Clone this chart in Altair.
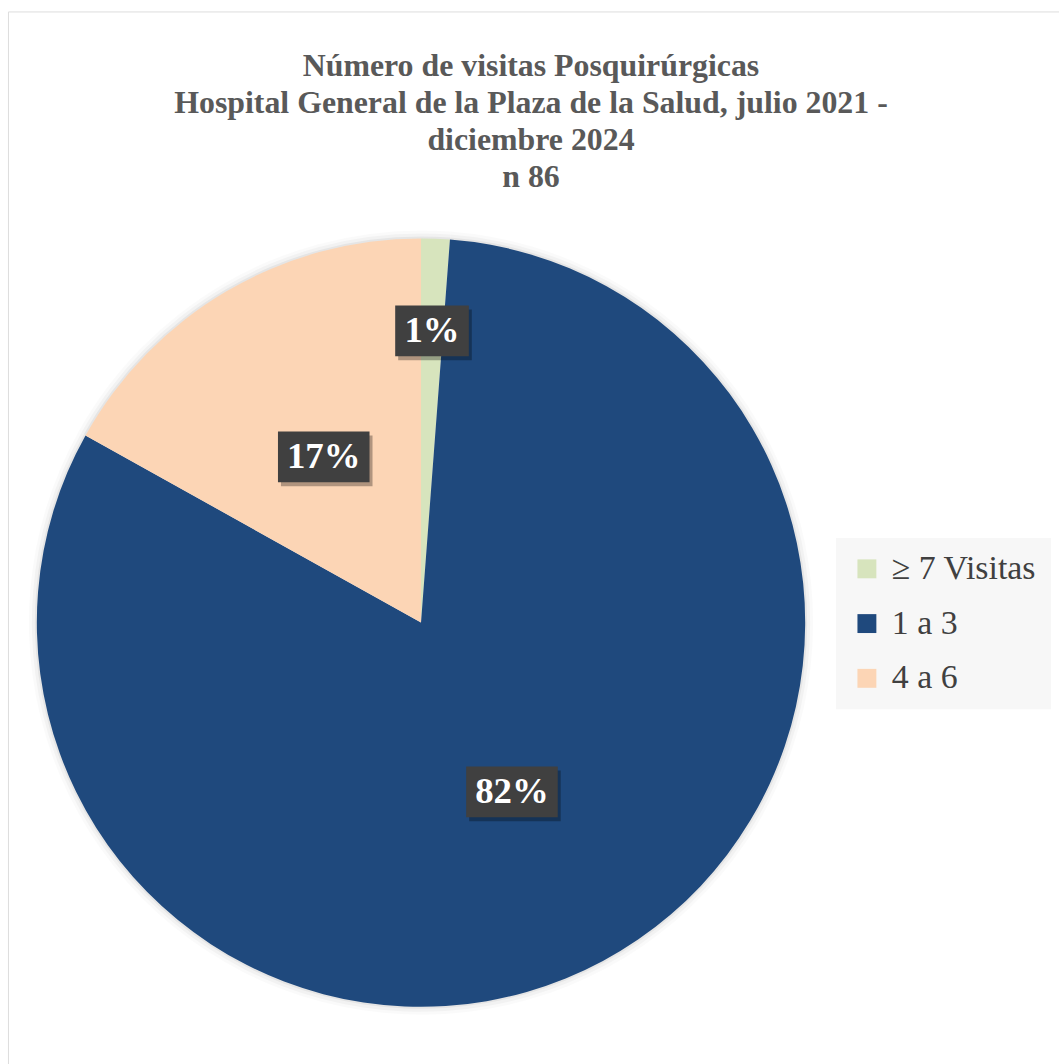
import altair as alt
import pandas as pd

# ---- data ----
categorias = ["≥ 7 Visitas", "1 a 3", "4 a 6"]
porcentajes = [1.2, 81.9, 16.9]
etiquetas = ["1%", "82%", "17%"]
colores = ["#d7e4bd", "#1f497d", "#fcd5b5"]
titulo = [
    "Número de visitas Posquirúrgicas",
    "Hospital General de la Plaza de la Salud, julio 2021 -",
    "diciembre 2024",
    "n 86",
]

df = pd.DataFrame({
    "categoria": categorias,
    "pct": porcentajes,
    "etiqueta": etiquetas,
    "orden": list(range(len(categorias))),
})

# layout (pixels, relative to plot origin)
CX, CY, R = 415, 614, 386
FONT = "Liberation Serif"

base = alt.Chart(df)

theta = alt.Theta("pct:Q", stack=True)
order = alt.Order("orden:Q", sort="ascending")

color = alt.Color(
    "categoria:N",
    scale=alt.Scale(domain=categorias, range=colores),
    sort=categorias,
    legend=alt.Legend(
        orient="none", legendX=832, legendY=529, title=None,
        fillColor="#f7f7f7", padding=14,
        symbolType="square", symbolSize=361, symbolStrokeWidth=0,
        symbolOpacity=1,
        labelFont=FONT, labelFontSize=34, labelColor="#404040",
        rowPadding=21, labelOffset=8, labelLimit=400,
    ),
)

glow = [
    base.mark_arc(outerRadius=R + k, fill="black", fillOpacity=op, stroke=None).encode(
        theta=theta, order=order, x=alt.value(CX), y=alt.value(CY)
    )
    for k, op in [(8, 0.02), (5, 0.03), (2, 0.05)]
]

pie = base.mark_arc(outerRadius=R, stroke=None).encode(
    theta=theta, color=color, order=order, x=alt.value(CX), y=alt.value(CY)
)

lab = base.transform_window(
    acum="sum(pct)", sort=[alt.SortField("orden")], frame=[None, 0]
).transform_joinaggregate(
    total="sum(pct)"
).transform_calculate(
    ang="2*PI*(datum.acum - datum.pct/2)/datum.total",
    rr=f"datum.pct/datum.total < 0.05 ? {0.76 * R} : {0.5 * R}",
    lx=f"{CX} + datum.rr*sin(datum.ang)",
    ly=f"{CY} - datum.rr*cos(datum.ang)",
    hw="(length(datum.etiqueta)-1)*9 + 18 + 10",
    bx1="datum.lx - datum.hw",
    bx2="datum.lx + datum.hw",
    by1="datum.ly - 25.5",
    by2="datum.ly + 25.5",
    sx1="datum.bx1 + 3",
    sx2="datum.bx2 + 3",
    sy1="datum.by1 + 4",
    sy2="datum.by2 + 4",
)

sombra = lab.mark_rect(color="black", opacity=0.3).encode(
    x=alt.X("sx1:Q", scale=None, axis=None), x2="sx2:Q",
    y=alt.Y("sy1:Q", scale=None, axis=None), y2="sy2:Q",
)

caja = lab.mark_rect(color="#404040").encode(
    x=alt.X("bx1:Q", scale=None, axis=None), x2="bx2:Q",
    y=alt.Y("by1:Q", scale=None, axis=None), y2="by2:Q",
)

texto = lab.mark_text(
    font=FONT, fontWeight="bold", fontSize=37, color="white",
    align="center", baseline="middle",
).encode(
    x=alt.X("lx:Q", scale=None, axis=None),
    y=alt.Y("ly:Q", scale=None, axis=None),
    text="etiqueta:N",
)

chart = alt.layer(*glow, pie, sombra, caja, texto).properties(
    width=1056,
    height=1060,
    autosize=alt.AutoSizeParams(type="none"),
    padding={"left": 8, "top": 9, "right": 0, "bottom": 0},
    title=alt.TitleParams(
        text=titulo, font=FONT, fontSize=32, fontWeight="bold",
        color="#595959", lineHeight=37, anchor="middle",
        offset=-183, dx=-2.5,
    ),
).configure_view(
    stroke="#bdbdbd", strokeWidth=2.5, fill="white"
).configure(background="white")

chart.save("out.html", embed_options={"renderer": "svg", "actions": False})
